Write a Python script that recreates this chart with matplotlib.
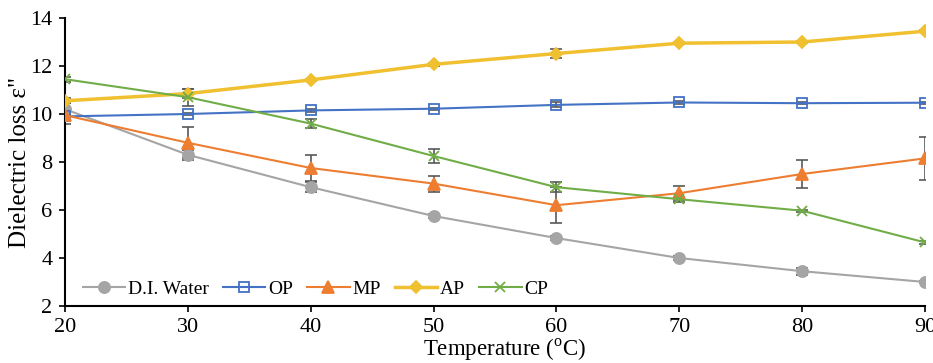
import numpy as np
import matplotlib
matplotlib.use("Agg")
import matplotlib.pyplot as plt

plt.rcParams['font.family'] = ['Liberation Serif', 'DejaVu Serif']
plt.rcParams['mathtext.fontset'] = 'custom'
plt.rcParams['mathtext.rm'] = 'Liberation Serif'

temps = [20, 30, 40, 50, 60, 70, 80, 90]

water = [10.2, 8.3, 6.95, 5.75, 4.83, 4.0, 3.45, 3.0]
water_err = [0.25, 0.2, 0.2, 0.1, 0.1, 0.1, 0.15, 0.05]
op = [9.9, 10.0, 10.15, 10.22, 10.38, 10.48, 10.45, 10.47]
op_err = [0.1, 0.05, 0.05, 0.05, 0.1, 0.05, 0.05, 0.05]
mp = [9.95, 8.8, 7.75, 7.1, 6.2, 6.7, 7.5, 8.15]
mp_err = [0.35, 0.65, 0.55, 0.33, 0.75, 0.28, 0.6, 0.9]
ap = [10.55, 10.85, 11.42, 12.07, 12.52, 12.95, 13.0, 13.45]
ap_err = [0.1, 0.2, 0.05, 0.05, 0.2, 0.05, 0.05, 0.05]
cp = [11.45, 10.7, 9.6, 8.25, 6.95, 6.45, 5.97, 4.65]
cp_err = [0.1, 0.35, 0.2, 0.3, 0.2, 0.1, 0.05, 0.05]

fig = plt.figure(figsize=(9.33, 3.63), dpi=100)
ax = fig.add_axes([65/933, 1-306/363, 860/933, 288/363])

ebc = '#595959'
def series(y, e, label, color, marker, lw=1.5, ms=7, mfc=None):
    ax.errorbar(temps, y, yerr=e, fmt='none', ecolor=ebc, elinewidth=1.2,
                capsize=4, capthick=1.2, zorder=2)
    ax.plot(temps, y, color=color, lw=lw, marker=marker, ms=ms,
            mfc=mfc if mfc is not None else color, mec=color, mew=1.3,
            label=label, zorder=3)

series(water, water_err, 'D.I. Water', '#A5A5A5', 'o', ms=8)
series(op, op_err, 'OP', '#4472C4', 's', ms=7, mfc='none')
series(mp, mp_err, 'MP', '#ED7D31', '^', ms=8)
series(ap, ap_err, 'AP', '#F0C030', 'D', lw=2.5, ms=6)
series(cp, cp_err, 'CP', '#70AD47', 'x', ms=7)

ax.set_xlim(20, 90)
ax.set_ylim(2, 14)
ax.set_xticks(temps)
ax.set_yticks(np.arange(2, 15, 2))
ax.tick_params(labelsize=16, direction='out', length=4, width=1.2, pad=5)
ax.spines['top'].set_visible(False)
ax.spines['right'].set_visible(False)
ax.spines['left'].set_linewidth(1.5)
ax.spines['bottom'].set_linewidth(1.5)

ax.set_xlabel('Temperature ($^{\\mathrm{o}}$C)', fontsize=16.5, labelpad=0)
ax.set_ylabel('Dielectric loss ε"', fontsize=18)
ax.yaxis.set_label_coords(-0.04, 0.5)
ax.xaxis.set_label_coords(0.511, -0.108)

ax.legend(loc='lower left', ncol=5, frameon=False, fontsize=14,
          handlelength=2.2, columnspacing=0.7, handletextpad=0.15,
          bbox_to_anchor=(0.0, -0.032))

fig.savefig('out.png', dpi=100)
